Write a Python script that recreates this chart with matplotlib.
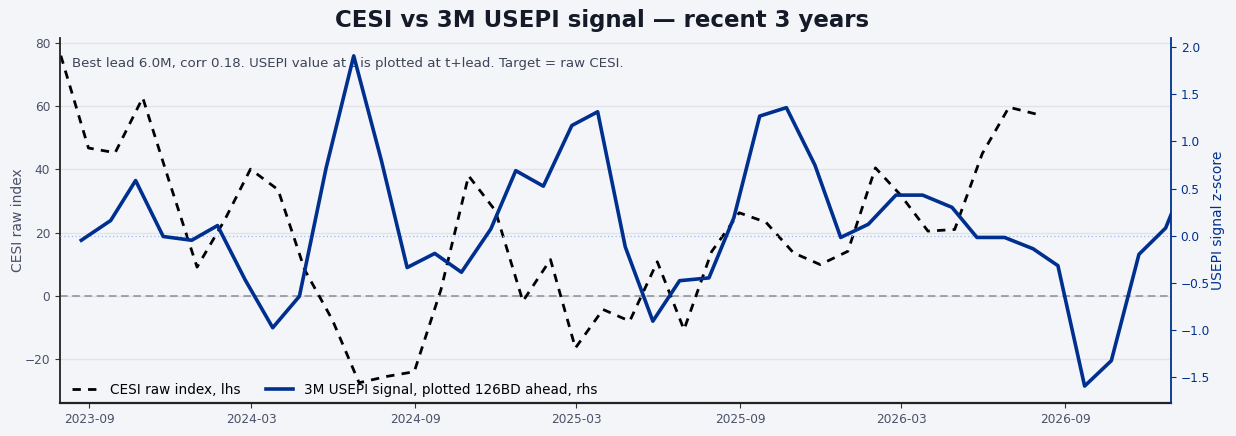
import numpy as np
import pandas as pd
import matplotlib
matplotlib.use("Agg")
import matplotlib.pyplot as plt
import matplotlib.dates as mdates

# CESI raw index, month-end, 2023-07 .. 2026-07
cesi_dates = pd.date_range("2023-07-31", "2026-07-31", freq="ME")
cesi_vals = [76, 46.8, 45.3, 62.7, 36, 9.1,
             24, 40.1, 33.6, 8.2, -7.6, -27.5, -25.5, -24, 2, 38, 27, -1.7,
             11.5, -16.5, -4.3, -8, 10.8, -10.7, 14, 26.3, 23.3, 13.6, 9.9, 14.1,
             40.5, 32, 20.5, 21, 45, 59.7, 57.5]

# 3M USEPI signal z-score, month-end 2023-02 .. 2026-07 (before the lead shift)
sig_dates = pd.date_range("2023-02-28", "2026-07-31", freq="ME")
sig_vals = [-0.05, 0.16, 0.585, -0.01, -0.05, 0.106, -0.47, -0.98, -0.645, 0.72,
            1.91, 0.8, -0.34, -0.19, -0.39, 0.07, 0.69, 0.525, 1.17, 1.316,
            -0.12, -0.91, -0.48, -0.45, 0.19, 1.27, 1.36, 0.75, -0.02, 0.12,
            0.43, 0.43, 0.30, -0.02, -0.02, -0.14, -0.32, -1.60, -1.33, -0.20,
            0.08, 0.85]
lead_bd = 126
sig_shifted = sig_dates + pd.offsets.BDay(lead_bd)

bg = "#f4f5f8"
navy = "#00308f"
grey_txt = "#4a5068"

fig = plt.figure(figsize=(12.36, 4.36), dpi=100, facecolor=bg)
ax = fig.add_axes([0.0485, 0.0757, 0.8989, 0.8371], facecolor=bg)
ax2 = ax.twinx()

l1, = ax.plot(cesi_dates, cesi_vals, color="black", lw=2.0, dashes=(3, 2.6),
              label="CESI raw index, lhs")
ax.axhline(0, color="#8a8d96", lw=1.1, ls=(0, (5, 3)), zorder=1)
l2, = ax2.plot(sig_shifted, sig_vals, color=navy, lw=2.6,
               label=f"3M USEPI signal, plotted {lead_bd}BD ahead, rhs")
ax2.axhline(0, color="#9db8f0", lw=0.9, ls=(0, (1, 2)), zorder=1)

ax.set_xlim(pd.Timestamp("2023-07-30"), pd.Timestamp("2026-12-29"))
ax.set_ylim(-33.9, 81.6)
ax2.set_ylim(-1.78, 2.10)
ax.set_yticks([-20, 0, 20, 40, 60, 80])
ax2.set_yticks([-1.5, -1.0, -0.5, 0.0, 0.5, 1.0, 1.5, 2.0])

ax.xaxis.set_major_locator(mdates.MonthLocator(bymonth=[3, 9]))
ax.xaxis.set_major_formatter(mdates.DateFormatter("%Y-%m"))

ax.grid(axis="y", color="#e1e3e8", lw=1.0)
ax.set_axisbelow(True)

ax.tick_params(colors=grey_txt, labelsize=8.7)
ax.tick_params(axis="both", color="#333333")
ax2.tick_params(axis="y", colors=navy, labelsize=8.7)

for a in (ax, ax2):
    a.spines["top"].set_visible(False)
ax.spines["left"].set_color("#222222")
ax.spines["bottom"].set_color("#222222")
ax.spines["bottom"].set_linewidth(1.6)
ax.spines["left"].set_linewidth(1.3)
ax.spines["right"].set_visible(False)
ax2.spines["left"].set_visible(False)
ax2.spines["bottom"].set_visible(False)
ax2.spines["right"].set_color(navy)
ax2.spines["right"].set_linewidth(1.3)

ax.set_ylabel("CESI raw index", color=grey_txt, fontsize=10, labelpad=0)
ax2.set_ylabel("USEPI signal z-score", color=navy, fontsize=10, labelpad=1)

ax.text(0.011, 0.948, "Best lead 6.0M, corr 0.18. USEPI value at t is plotted at t+lead. "
        "Target = raw CESI.", transform=ax.transAxes, ha="left", va="top",
        fontsize=9.65, color="#3d4459")

ax2.legend([l1, l2], [l1.get_label(), l2.get_label()], loc="lower left", ncol=2,
           frameon=False, fontsize=9.8, handlelength=2.0, columnspacing=1.9,
           borderaxespad=0.05, bbox_to_anchor=(0.005, 0.0))

fig.suptitle("CESI vs 3M USEPI signal \u2014 recent 3 years", fontsize=16.5,
             fontweight="bold", color="#151a28", x=0.487, y=0.98)

fig.savefig("out.png", dpi=100, facecolor=bg)
